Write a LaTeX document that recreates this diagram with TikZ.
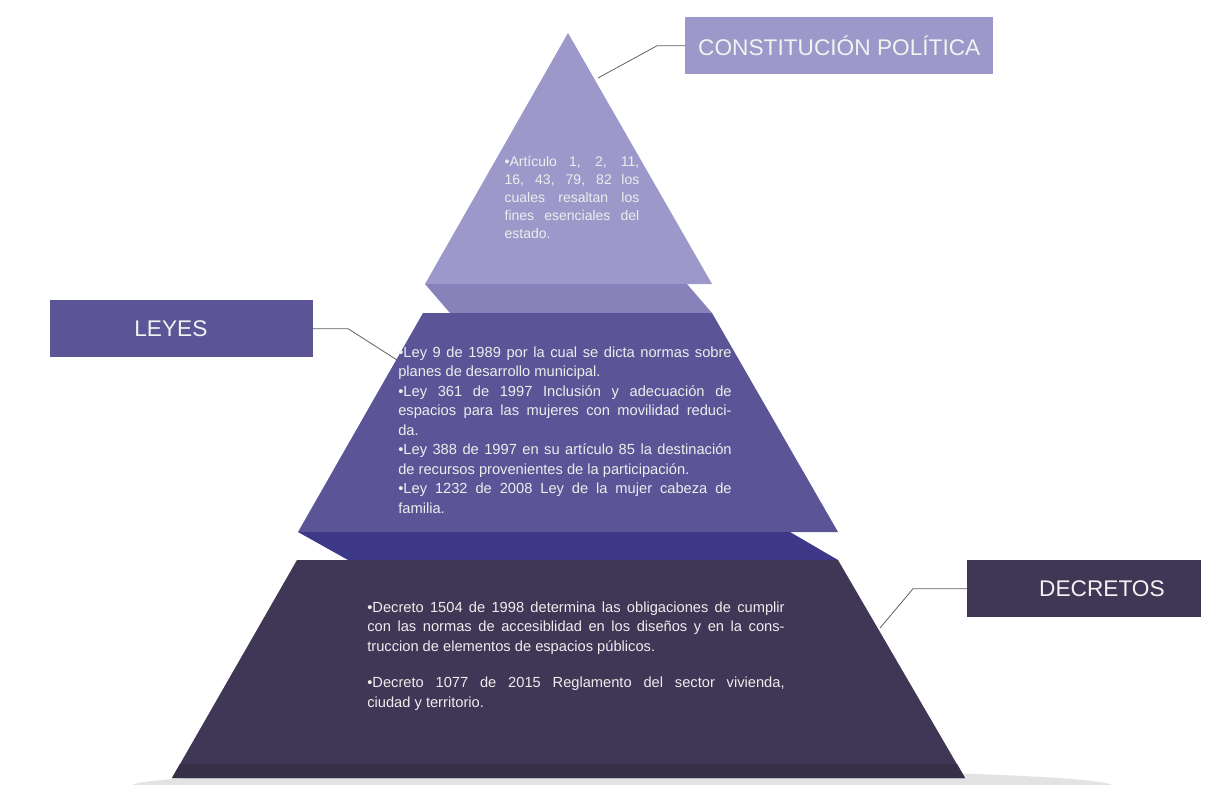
\documentclass[tikz,border=0pt]{standalone}
\usepackage{fontspec}
\setmainfont{Liberation Sans}
\definecolor{capauno}{HTML}{9D98CA}
\definecolor{franjauno}{HTML}{8782B9}
\definecolor{capados}{HTML}{5B5496}
\definecolor{franjados}{HTML}{3E3888}
\definecolor{capatres}{HTML}{3F3755}
\definecolor{basetres}{HTML}{363047}
\tolerance=10000 \hbadness=10000 \hyphenpenalty=10000
\begin{document}
\begin{tikzpicture}[x=0.75pt, y=-0.75pt, line join=round,
	caja/.style={minimum height=42.75pt, inner sep=0pt, text=white!95!black, font=\fontsize{17}{20}\selectfont},
	conector/.style={draw=gray!75!black, line width=0.6pt},
	texto/.style={text=white!93!black, align=justify, inner sep=0pt, font=\fontsize{11}{14.6}\selectfont}]
	\useasboundingbox (0,0) rectangle (1211,785);
	% sombra del piso
	\fill[gray!22] (622,786) ellipse (368pt and 13pt);
	% capas de la piramide
	\fill[capauno] (568,33) -- (425,284) -- (712,284) -- cycle;
	\fill[franjauno] (425,284) -- (687,284) -- (712,313) -- (450,313) -- cycle;
	\fill[capados] (423,313) -- (712,313) -- (838,532) -- (298,532) -- cycle;
	\fill[franjados] (298,532) -- (790,532) -- (838,560) -- (348,560) -- cycle;
	\fill[capatres] (297,560) -- (838,560) -- (965,778) -- (172,778) -- cycle;
	\fill[basetres] (180,764) -- (957,764) -- (965,778) -- (172,778) -- cycle;
	% textos
	\node[texto, text width=101pt, font=\fontsize{10.5}{13.5}\selectfont] (ttri) at (572,197)
		{•Artículo 1, 2, 11,\linebreak 16, 43, 79, 82 los\linebreak cuales resaltan los\linebreak fines esenciales del\linebreak estado.};
	\node[texto, text width=250pt] (tleyes) at (565,430)
		{•Ley 9 de 1989 por la cual se dicta normas sobre\linebreak planes de desarrollo municipal.\par
		•Ley 361 de 1997 Inclusión y adecuación de\linebreak espacios para las mujeres con movilidad reduci-\linebreak da.\par
		•Ley 388 de 1997 en su artículo 85 la destinación\linebreak de recursos provenientes de la participación.\par
		•Ley 1232 de 2008 Ley de la mujer cabeza de\linebreak familia.};
	\node[texto, text width=313pt, font=\fontsize{11}{14.5}\selectfont] (tdecretos) at (576,656)
		{•Decreto 1504 de 1998 determina las obligaciones de cumplir\linebreak con las normas de accesiblidad en los diseños y en la cons-\linebreak truccion de elementos de espacios públicos.\par\vspace{13pt}
		•Decreto 1077 de 2015 Reglamento del sector vivienda,\linebreak ciudad y territorio.};
	% etiquetas
	\node[caja, fill=capauno, minimum width=231pt, anchor=north west] (cp) at (685,17) {CONSTITUCIÓN POLÍTICA};
	\node[caja, fill=capados, minimum width=197pt, anchor=north west] (leyes) at (50,300) {LEYES\kern16pt};
	\node[caja, fill=capatres, minimum width=175pt, anchor=north west] (decretos) at (967,560) {\hspace{27pt}DECRETOS};
	\coordinate (cpfin) at (598,78);
	\coordinate (leyesfin) at (397,360);
	\coordinate (decretosfin) at (880,628);
	\draw[conector] (cp.west) -- ++(-28,0) -- (cpfin);
	\draw[conector] (leyes.east) -- ++(35,0) -- (leyesfin);
	\draw[conector] (decretos.west) -- ++(-54,0) -- (decretosfin);
\end{tikzpicture}
\end{document}
